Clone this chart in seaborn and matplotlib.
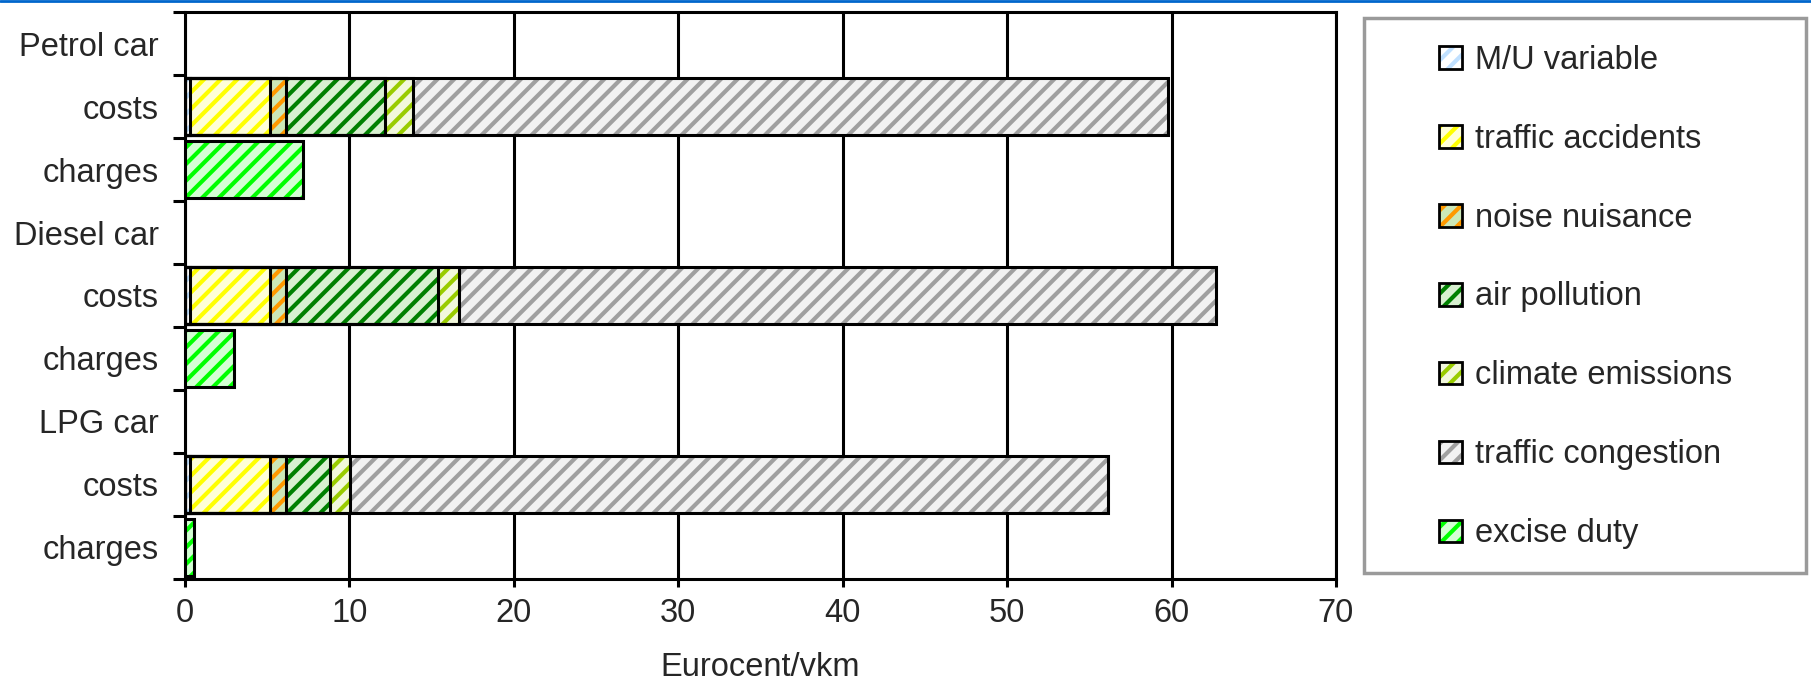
import numpy as np
import pandas as pd
import matplotlib
matplotlib.use("Agg")
import matplotlib.pyplot as plt
import seaborn as sns
from matplotlib.patches import Patch, Rectangle
from matplotlib.legend_handler import HandlerTuple
from matplotlib.lines import Line2D
from matplotlib.ticker import FixedLocator

# ---------------- data ----------------
row_keys = ["petrol", "petrol_costs", "petrol_charges",
            "diesel", "diesel_costs", "diesel_charges",
            "lpg", "lpg_costs", "lpg_charges"]
row_labels = ["Petrol car", "costs", "charges",
              "Diesel car", "costs", "charges",
              "LPG car", "costs", "charges"]

cost_rows = ["petrol_costs", "diesel_costs", "lpg_costs"]
charge_rows = ["petrol_charges", "diesel_charges", "lpg_charges"]

mu_variable = [0.30, 0.30, 0.30]
traffic_accidents = [4.87, 4.87, 4.87]
noise_nuisance = [0.95, 0.95, 0.95]
air_pollution = [6.05, 9.29, 2.70]
climate_emissions = [1.68, 1.24, 1.22]
traffic_congestion = [45.95, 46.05, 46.12]
excise_duty = [7.15, 3.00, 0.55]

component_names = ["M/U variable", "traffic accidents", "noise nuisance",
                   "air pollution", "climate emissions", "traffic congestion",
                   "excise duty"]
x_ticks = [0, 10, 20, 30, 40, 50, 60, 70]

# ---------------- style ----------------
face_colors = ["#ffffff", "#ffffd8", "#cce8b8", "#d8f0d0", "#f2f8dc", "#f2f2f2", "#d4ffd4"]
hatch_colors = ["#c0e0ff", "#ffff00", "#ff9900", "#008000", "#99cc00", "#a0a0a0", "#00ff00"]

sns.set_style("white")
plt.rcParams["font.family"] = ["Liberation Sans", "DejaVu Sans"]
plt.rcParams["hatch.linewidth"] = 3.0
FS = 23.5

fig, ax = plt.subplots(figsize=(18.11, 6.83), dpi=100)
fig.subplots_adjust(left=0.1022, right=0.7377, top=0.9824, bottom=0.1523)


def draw(rows, values, face, hatchc):
    d = pd.DataFrame({"row": rows, "value": values})
    sns.barplot(data=d, x="value", y="row", order=row_keys, orient="h",
                color=face, saturation=1, width=0.9, hatch="//",
                edgecolor=hatchc, linewidth=0, errorbar=None, ax=ax, zorder=3)
    sns.barplot(data=d, x="value", y="row", order=row_keys, orient="h",
                fill=False, color="black", linewidth=2.2, width=0.9,
                errorbar=None, ax=ax, zorder=4)


cost_series = [mu_variable, traffic_accidents, noise_nuisance, air_pollution,
               climate_emissions, traffic_congestion]
cum = np.cumsum(np.array(cost_series), axis=0)
for k in range(len(cost_series) - 1, -1, -1):
    draw(cost_rows, cum[k], face_colors[k], hatch_colors[k])
draw(charge_rows, excise_duty, face_colors[6], hatch_colors[6])

# ---------------- axes ----------------
ax.set_xlim(0, 70)
ax.set_ylim(8.5, -0.5)
ax.set_xticks(x_ticks)
ax.set_xticklabels([str(t) for t in x_ticks], fontsize=FS)
ax.set_yticks(range(len(row_keys)))
ax.set_yticklabels(row_labels, fontsize=FS)
ax.yaxis.set_minor_locator(FixedLocator(np.arange(-0.5, 9.0, 1.0)))
ax.tick_params(axis="y", which="major", length=0, pad=19)
ax.tick_params(axis="y", which="minor", length=8.5, width=2.2, color="black", direction="out", left=True)
ax.tick_params(axis="x", which="major", length=5.5, width=2.2, color="black", direction="out", pad=8, bottom=True)
ax.set_xlabel("Eurocent/vkm", fontsize=FS, labelpad=17)
ax.set_ylabel("")
ax.grid(axis="x", color="black", linewidth=2.2)
ax.grid(axis="y", visible=False)
ax.set_axisbelow(True)
for s in ax.spines.values():
    s.set_visible(True)
    s.set_color("black")
    s.set_linewidth(2.2)

# ---------------- legend ----------------
handles = []
for f, h in zip(face_colors, hatch_colors):
    p1 = Patch(facecolor=f, edgecolor=h, hatch="//", linewidth=0)
    p2 = Patch(facecolor="none", edgecolor="black", linewidth=2)
    handles.append((p1, p2))

fig.patches.append(Rectangle((1364 / 1811, 1 - 573 / 683), 442 / 1811, 555 / 683,
                             transform=fig.transFigure, facecolor="white",
                             edgecolor="#9a9a9a", linewidth=2.5, zorder=0))
leg = fig.legend(handles, component_names, loc="center",
                 bbox_to_anchor=(1586 / 1811, 1 - 297 / 683),
                 frameon=False, fontsize=FS, handlelength=0.7, handleheight=0.7,
                 handletextpad=0.4, labelspacing=1.47,
                 handler_map={tuple: HandlerTuple(ndivide=1, pad=0)})

fig.add_artist(Line2D([0, 1], [1 - 1.2 / 683] * 2, transform=fig.transFigure,
                      color="#0066cc", linewidth=2))

fig.savefig("out.png", dpi=100)
